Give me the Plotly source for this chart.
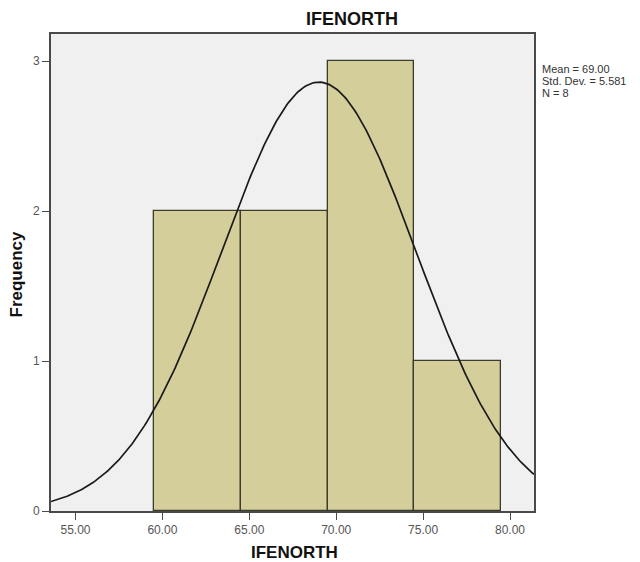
import numpy as np
import plotly.graph_objects as go

# Data
bin_centers = [62.0, 67.0, 72.0, 77.0]
bin_width = 5.0
counts = [2, 2, 3, 1]
mean_val = 69.00
std_dev = 5.581
n_obs = 8
x_tick_vals = [55, 60, 65, 70, 75, 80]
x_tick_text = ["55.00", "60.00", "65.00", "70.00", "75.00", "80.00"]
y_tick_vals = [0, 1, 2, 3]
x_range = [53.59, 81.38]
y_range = [0, 3.18]
stats_lines = [f"Mean = {mean_val:.2f}", f"Std. Dev. = {std_dev:.3f}", f"N = {n_obs}"]

# Layout geometry (figure pixels)
W, H = 640, 562
ML, MR, MT, MB = 43, 114, 26, 59
PW, PH = W - ML - MR, H - MT - MB


def px(fx):
    return (fx - ML) / PW


def py(fy):
    return (H - MB - fy) / PH


# Fitted normal curve (scaled to counts)
xs = np.linspace(x_range[0], x_range[1], 300)
ys = n_obs * bin_width / (std_dev * np.sqrt(2 * np.pi)) * np.exp(-0.5 * ((xs - mean_val) / std_dev) ** 2)

fig = go.Figure()
fig.add_trace(go.Bar(
    x=bin_centers, y=counts, width=[bin_width] * len(counts),
    marker=dict(color="#D4CE9A", line=dict(color="#3c3c2c", width=1.3)),
    hoverinfo="x+y",
))
fig.add_trace(go.Scatter(
    x=xs, y=ys, mode="lines",
    line=dict(color="#1a1a1a", width=1.7),
    hoverinfo="skip",
))

axis_common = dict(
    showgrid=False, zeroline=False, automargin=False,
    showline=True, linecolor="#4a4a4a", linewidth=1.8, mirror=True,
    ticks="outside", ticklen=7, tickcolor="#4a4a4a", tickwidth=1.4,
    tickfont=dict(size=12, color="#555"),
)

fig.update_layout(
    width=W, height=H,
    margin=dict(l=ML, r=MR, t=MT, b=MB, autoexpand=False),
    paper_bgcolor="white",
    plot_bgcolor="#F0F0F0",
    showlegend=False,
    bargap=0,
    font=dict(family="Liberation Sans, Arial, sans-serif", color="#333"),
    xaxis=dict(range=x_range, tickvals=x_tick_vals, ticktext=x_tick_text, **axis_common),
    yaxis=dict(range=y_range, tickvals=y_tick_vals, **axis_common),
)

# Chart title
fig.add_annotation(xref="paper", yref="paper", x=px(344), y=py(11.5), xanchor="center", yanchor="middle",
                   showarrow=False, text="<b>IFENORTH</b>", font=dict(size=18, color="#111"))
# X axis title
fig.add_annotation(xref="paper", yref="paper", x=px(286), y=py(544), xanchor="center", yanchor="middle",
                   showarrow=False, text="<b>IFENORTH</b>", font=dict(size=17, color="#111"))
# Y axis title
fig.add_annotation(xref="paper", yref="paper", x=px(7.5), y=py(266), xanchor="center", yanchor="middle",
                   showarrow=False, textangle=-90, text="<b>Frequency</b>", font=dict(size=17, color="#111"))
# Statistics box
for i, line in enumerate(stats_lines):
    fig.add_annotation(xref="paper", yref="paper", x=px(532), y=py(61 + 12 * i), xanchor="left", yanchor="middle",
                       showarrow=False, text=line, font=dict(size=11, color="#333"))

fig.write_html("out.html")
